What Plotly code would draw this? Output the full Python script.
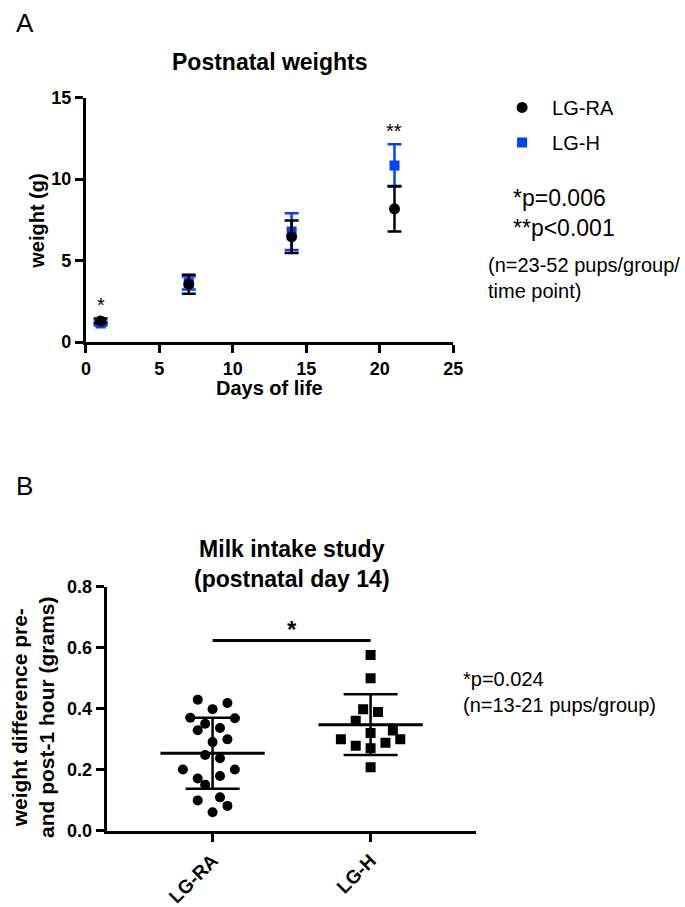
import numpy as np
import plotly.graph_objects as go

# ---------------- Panel A data ----------------
days = [1, 7, 14, 21]
ra_mean = [1.30, 3.55, 6.46, 8.18]
ra_sd = [0.15, 0.58, 1.00, 1.40]
h_mean = [1.14, 3.63, 6.78, 10.84]
h_sd = [0.12, 0.40, 1.13, 1.31]
sig_days = [1, 21]
sig_marks = ["*", "**"]
sig_y = [2.25, 12.95]

# ---------------- Panel B data ----------------
groups = ["LG-RA", "LG-H"]
ra_vals = [0.430, 0.419, 0.399, 0.371, 0.369, 0.351, 0.330, 0.337, 0.291, 0.300,
           0.249, 0.238, 0.201, 0.201, 0.172, 0.180, 0.151, 0.100, 0.110, 0.082, 0.061]
ra_slot = [-2, 2, 0, -3, 3, -1, -2, 1, 0, 2, -1, 1, -4, 3, -2, 1, -1, -2, 1, 2, 0]
h_vals = [0.576, 0.500, 0.399, 0.390, 0.361, 0.321, 0.329, 0.300, 0.300, 0.279,
          0.289, 0.271, 0.209]
h_slot = [0, 0, -1, 1, -2, 0, 3, -4, 4, -2, 2, 0, 0]

BLUE = "#0040FF"
W, H = 685, 907
FONT = "Liberation Sans, Arial, sans-serif"

fig = go.Figure()

# Panel A: LG-H first (drawn below), then LG-RA
fig.add_trace(go.Scatter(
    x=days, y=h_mean, mode="markers", name="LG-H",
    marker=dict(symbol="square", size=10, color=BLUE),
    error_y=dict(type="data", array=h_sd, color=BLUE, thickness=2.5, width=7),
    xaxis="x", yaxis="y", legendrank=2, legendgroup="h"))
fig.add_trace(go.Scatter(
    x=days, y=ra_mean, mode="markers", name="LG-RA",
    marker=dict(symbol="circle", size=11, color="black"),
    error_y=dict(type="data", array=ra_sd, color="black", thickness=2.5, width=7),
    xaxis="x", yaxis="y", legendrank=1, legendgroup="ra"))

# Panel B scatter
step = 0.047
ra_x = [0 + s * step for s in ra_slot]
h_x = [1 + s * step for s in h_slot]
fig.add_trace(go.Scatter(
    x=ra_x, y=ra_vals, mode="markers", showlegend=False,
    marker=dict(symbol="circle", size=10, color="black"),
    xaxis="x2", yaxis="y2"))
fig.add_trace(go.Scatter(
    x=h_x, y=h_vals, mode="markers", showlegend=False,
    marker=dict(symbol="square", size=10, color="black"),
    xaxis="x2", yaxis="y2"))

# mean +/- SD
for i, vals in enumerate([ra_vals, h_vals]):
    m = float(np.mean(vals))
    sd = float(np.std(vals, ddof=1))
    fig.add_trace(go.Scatter(
        x=[i - 0.33, i + 0.33], y=[m, m], mode="lines", showlegend=False,
        line=dict(color="black", width=3), xaxis="x2", yaxis="y2"))
    fig.add_trace(go.Scatter(
        x=[i], y=[m], mode="markers", showlegend=False,
        marker=dict(size=1, color="rgba(0,0,0,0)"),
        error_y=dict(type="data", array=[sd], color="black", thickness=2.5, width=27),
        xaxis="x2", yaxis="y2"))

# significance bracket
fig.add_trace(go.Scatter(
    x=[0, 1], y=[0.624, 0.624], mode="lines", showlegend=False,
    line=dict(color="black", width=3), xaxis="x2", yaxis="y2"))

axis_common = dict(showline=True, linecolor="black", linewidth=3, ticks="outside",
                   ticklen=8, tickwidth=3, tickcolor="black", showgrid=False,
                   zeroline=False, tickfont=dict(family=FONT, size=18, color="black",
                                                 weight="bold"))

fig.update_layout(
    width=W, height=H, margin=dict(l=0, r=0, t=0, b=0),
    paper_bgcolor="white", plot_bgcolor="white",
    font=dict(family=FONT, color="black"),
    xaxis=dict(domain=[82.7 / W, 458.3 / W], range=[0, 25], tickvals=[0, 5, 10, 15, 20, 25],
               anchor="y", **axis_common),
    yaxis=dict(domain=[(H - 340.7) / H, (H - 90) / H], range=[0, 15], tickvals=[0, 5, 10, 15],
               anchor="x", **axis_common),
    xaxis2=dict(domain=[104 / W, 482 / W], range=[-0.67, 1.67], tickvals=[0, 1],
                ticktext=groups, tickangle=-45, anchor="y2", **axis_common),
    yaxis2=dict(domain=[(H - 842.3) / H, (H - 591.7) / H], range=[0, 0.8],
                tickvals=[0, 0.2, 0.4, 0.6, 0.8], tickformat=".1f",
                anchor="x2", **axis_common),
    legend=dict(x=498 / W, y=1 - 80 / H, xanchor="left", yanchor="top",
                font=dict(family=FONT, size=20, color="black"), itemwidth=50,
                tracegroupgap=6, bgcolor="rgba(0,0,0,0)"),
    showlegend=True,
)
fig.update_xaxes(tickfont=dict(size=19), selector=dict(anchor="y2"))

def pann(x, y, text, size, **kw):
    d = dict(x=x / W, y=1 - y / H, xref="paper", yref="paper", text=text, showarrow=False,
             font=dict(size=size, color="black"), xanchor="center", yanchor="middle")
    d.update(kw)
    return d

ann = []
for d, s, yv in zip(sig_days, sig_marks, sig_y):
    ann.append(dict(x=d, y=yv, xref="x", yref="y", text=s, showarrow=False,
                    font=dict(size=20, color="black")))
ann.append(dict(x=0.5, y=0.66, xref="x2", yref="y2", text="<b>*</b>", showarrow=False,
                font=dict(size=24, color="black")))
ann += [
    pann(20, 13, "A", 26),
    pann(20, 488, "B", 26),
    pann(270.5, 53, "<b>Postnatal weights</b>", 23),
    pann(270.7, 388, "<b>Days of life</b>", 20),
    pann(33.3, 216.7, "<b>weight (g)</b>", 20, textangle=-90),
    pann(28, 725, "<b>weight difference pre-<br>and post-1 hour (grams)</b>", 21,
         textangle=-90),
    pann(293, 568, "<b>Milk intake study<br>(postnatal day 14)</b>", 23),
    pann(517, 208, "*p=0.006<br>**p<0.001", 23, align="left", xanchor="left"),
    pann(491.7, 275, "(n=23-52 pups/group/<br>time point)", 20, align="left", xanchor="left"),
    pann(466.7, 700, "*p=0.024<br>(n=13-21 pups/group)", 20, align="left", xanchor="left"),
]
fig.update_layout(annotations=ann)

fig.write_html("out.html", config={"displayModeBar": False},
               post_script="document.body.style.margin='0px';document.body.style.overflow='hidden';")
